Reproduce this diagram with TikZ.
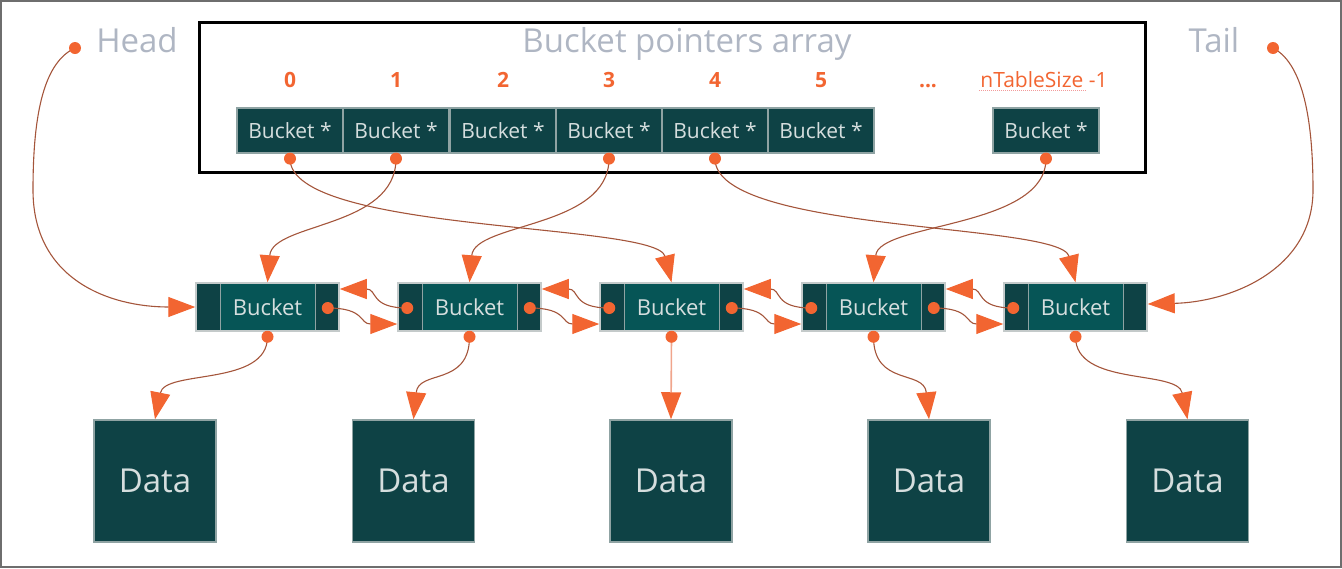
\documentclass[tikz,border=0pt]{standalone}
\usepackage{fontspec}
\setmainfont{Open Sans}
\usetikzlibrary{arrows.meta}
\definecolor{dteal}{HTML}{0E4245}
\definecolor{mteal}{HTML}{065556}
\definecolor{edgegray}{HTML}{8FA3A3}
\definecolor{bktedge}{HTML}{C4CACA}
\definecolor{orng}{HTML}{F26531}
\definecolor{lnk}{HTML}{A4553B}
\definecolor{lite}{HTML}{D5DEDE}
\definecolor{ttl}{HTML}{AFB6C3}
\definecolor{salmon}{HTML}{F0A58C}
\definecolor{framegray}{HTML}{6E6E6E}
\definecolor{spell}{HTML}{F29A9A}
\begin{document}
\begin{tikzpicture}[x=1pt,y=-1pt,
  cell/.style={draw=edgegray, line width=1.2pt, fill=dteal, minimum width=106pt, minimum height=45pt, inner sep=0pt, text=lite, font=\fontsize{21}{21}\selectfont},
  bkt/.style={draw=bktedge, line width=1.5pt, fill=dteal, minimum width=143pt, minimum height=48pt, inner sep=0pt, text=lite, font=\fontsize{22}{22}\selectfont,
    path picture={
      \fill[mteal] ([xshift=24pt]path picture bounding box.south west) rectangle ([xshift=-24pt]path picture bounding box.north east);
      \draw[edgegray, line width=0.8pt] ([xshift=24pt]path picture bounding box.south west) -- ([xshift=24pt]path picture bounding box.north west);
      \draw[edgegray, line width=0.8pt] ([xshift=-24pt]path picture bounding box.south east) -- ([xshift=-24pt]path picture bounding box.north east);
    }},
  databox/.style={draw=edgegray, line width=1.5pt, fill=dteal, minimum width=122pt, minimum height=122pt, inner sep=0pt, text=lite, font=\fontsize{33}{33}\selectfont},
  dot/.style={circle, fill=orng, inner sep=0pt, minimum size=12pt},
  idx/.style={anchor=base, text=orng, font=\fontsize{21}{21}\selectfont\bfseries},
  ttltext/.style={anchor=base, text=ttl, font=\fontsize{33}{33}\selectfont},
  link/.style={draw=lnk, line width=1.1pt, -{Triangle[length=27pt,width=20pt,color=orng]}}
]
\useasboundingbox (0,0) rectangle (1342,568);
\draw[framegray, line width=2pt] (1,1) rectangle (1341,567);

% array frame
\node[draw=black, line width=3pt, minimum width=946pt, minimum height=150pt, inner sep=0pt] (arr) at (672,97) {};
\node[ttltext] (title) at (687,52) {Bucket pointers array};
\node[ttltext] (head) at (137,52) {Head};
\node[ttltext] (tail) at (1214,52) {Tail};

% indices
\node[idx] (i0) at (290,87) {0};
\node[idx] (i1) at (396,87) {1};
\node[idx] (i2) at (503,87) {2};
\node[idx] (i3) at (609,87) {3};
\node[idx] (i4) at (715,87) {4};
\node[idx] (i5) at (821,87) {5};
\node[idx] (idots) at (928,87) {...};
\node[idx, font=\fontsize{21}{21}\selectfont] (isz) at (1044,87) {nTableSize -1};
\draw[spell, densely dotted, line width=1pt] (979,90) -- (1087,90);

% cells
\node[cell] (c0) at (290,130.5) {Bucket *};
\node[cell] (c1) at (396,130.5) {Bucket *};
\node[cell] (c2) at (503,130.5) {Bucket *};
\node[cell] (c3) at (609,130.5) {Bucket *};
\node[cell] (c4) at (715,130.5) {Bucket *};
\node[cell] (c5) at (821,130.5) {Bucket *};
\node[cell] (cl) at (1046,130.5) {Bucket *};

% buckets
\node[bkt] (b1) at (267.5,307) {Bucket};
\node[bkt] (b2) at (469.5,307) {Bucket};
\node[bkt] (b3) at (671.5,307) {Bucket};
\node[bkt] (b4) at (873.5,307) {Bucket};
\node[bkt] (b5) at (1075.5,307) {Bucket};

% data
\node[databox] (d1) at (155,481) {Data};
\node[databox] (d2) at (413.5,481) {Data};
\node[databox] (d3) at (671,481) {Data};
\node[databox] (d4) at (929,481) {Data};
\node[databox] (d5) at (1187.5,481) {Data};

% dot coordinates
\coordinate (hd) at (75,48);
\coordinate (td) at (1273,48);
\coordinate (c0d) at ([yshift=-5pt]c0.south);
\coordinate (c1d) at ([yshift=-5pt]c1.south);
\coordinate (c3d) at ([yshift=-5pt]c3.south);
\coordinate (c4d) at ([yshift=-5pt]c4.south);
\coordinate (cld) at ([yshift=-5pt]cl.south);
\foreach \i in {1,...,5}{
  \coordinate (b\i r) at ([xshift=-12pt,yshift=-1pt]b\i.east);
  \coordinate (b\i l) at ([xshift=10pt,yshift=-1pt]b\i.west);
  \coordinate (b\i s) at ([yshift=-5pt]b\i.south);
}

% head / tail
\draw[link] (hd) .. controls (45,62) and (33,110) .. (33,190) .. controls (33,280) and (110,307) .. (b1.west);
\draw[link] (td) .. controls (1300,62) and (1313,110) .. (1313,190) .. controls (1313,270) and (1230,302) .. ([yshift=3pt]b5.east);

% array pointers
\draw[link] (c0d) .. controls +(0,75) and +(-15,-60) .. (b3.north);
\draw[link] (c1d) .. controls +(0,70) and +(5,-60) .. (b1.north);
\draw[link] (c3d) .. controls +(0,70) and +(5,-60) .. (b2.north);
\draw[link] (c4d) .. controls +(0,75) and +(-15,-60) .. (b5.north);
\draw[link] (cld) .. controls +(0,70) and +(5,-60) .. (b4.north);

% next / prev
\foreach \a/\b in {1/2,2/3,3/4,4/5}{
  \draw[link] (b\a r) .. controls +(38,0) and +(-38,0) .. ([yshift=-17pt]b\b.west);
  \draw[link] (b\b l) .. controls +(-38,0) and +(38,0) .. ([yshift=18pt]b\a.east);
}

% data pointers
\draw[link] (b1s) .. controls +(0,50) and +(10,-50) .. (d1.north);
\draw[link] (b2s) .. controls +(0,50) and +(5,-50) .. (d2.north);
\draw[link, draw=salmon, line width=1.6pt] (b3s) -- (d3.north);
\draw[link] (b4s) .. controls +(0,50) and +(-5,-50) .. (d4.north);
\draw[link] (b5s) .. controls +(0,50) and +(-10,-50) .. (d5.north);

% dots on top
\node[dot] (hdot) at (hd) {};
\node[dot] (tdot) at (td) {};
\node[dot] (c0dot) at (c0d) {};
\node[dot] (c1dot) at (c1d) {};
\node[dot] (c3dot) at (c3d) {};
\node[dot] (c4dot) at (c4d) {};
\node[dot] (cldot) at (cld) {};
\foreach \i in {1,...,5}{
  \node[dot] (b\i sdot) at (b\i s) {};
}
\foreach \i in {1,...,4}{
  \node[dot] (b\i rdot) at (b\i r) {};
}
\foreach \i in {2,...,5}{
  \node[dot] (b\i ldot) at (b\i l) {};
}
\end{tikzpicture}
\end{document}
